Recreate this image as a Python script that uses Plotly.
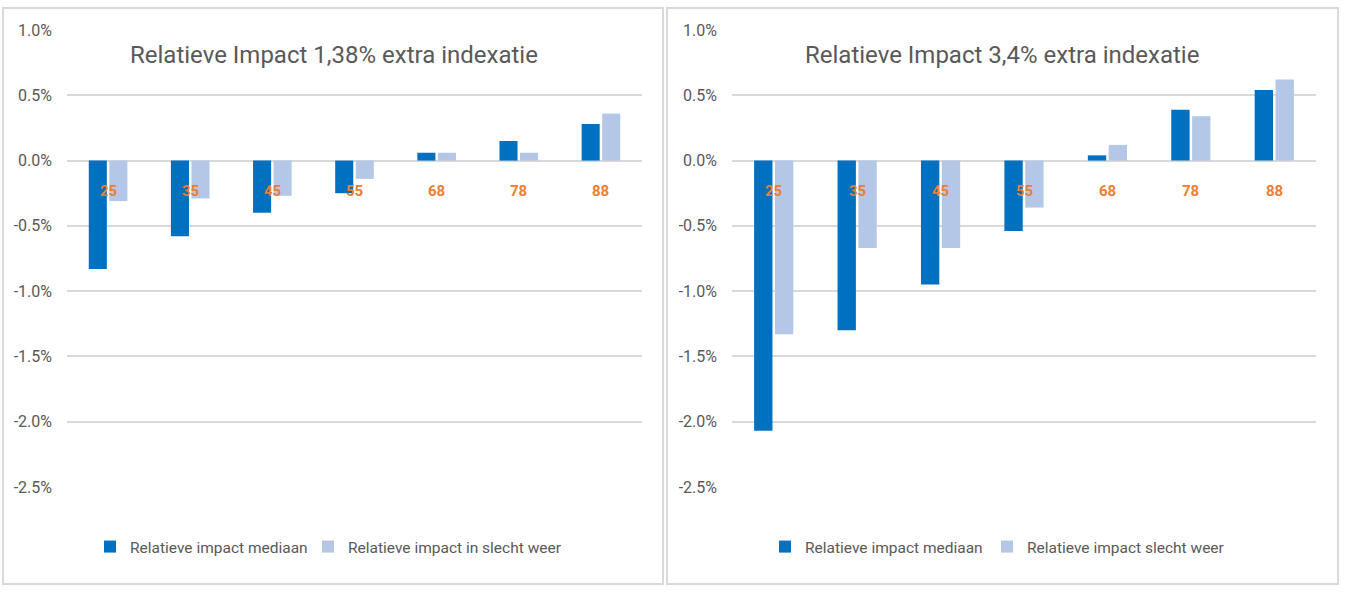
import plotly.graph_objects as go

categories = ["25", "35", "45", "55", "68", "78", "88"]
left_mediaan = [-0.83, -0.58, -0.40, -0.25, 0.06, 0.15, 0.28]
left_slecht = [-0.31, -0.29, -0.27, -0.14, 0.06, 0.06, 0.36]
right_mediaan = [-2.07, -1.30, -0.95, -0.54, 0.04, 0.39, 0.54]
right_slecht = [-1.33, -0.67, -0.67, -0.36, 0.12, 0.34, 0.62]
tick_vals = [1.0, 0.5, 0.0, -0.5, -1.0, -1.5, -2.0, -2.5]
tick_labels = ["1.0%", "0.5%", "0.0%", "-0.5%", "-1.0%", "-1.5%", "-2.0%", "-2.5%"]
left_title = "Relatieve Impact 1,38% extra indexatie"
right_title = "Relatieve Impact 3,4% extra indexatie"
left_names = ["Relatieve impact mediaan", "Relatieve impact in slecht weer"]
right_names = ["Relatieve impact mediaan", "Relatieve impact slecht weer"]

W, H = 1349, 596
DARK = "#0070C0"
LIGHT = "#B4C7E7"
GRID = "#D9D9D9"
TXT = "#595959"
ORANGE = "#ED7D31"
FONT = "Roboto, sans-serif"

def px(x):
    return x / W

def py(y):
    return 1 - y / H

fig = go.Figure()
fig.add_trace(go.Bar(x=categories, y=left_mediaan, name=left_names[0], marker_color=DARK,
                     xaxis="x", yaxis="y", legend="legend"))
fig.add_trace(go.Bar(x=categories, y=left_slecht, name=left_names[1], marker_color=LIGHT,
                     xaxis="x", yaxis="y", legend="legend2"))
fig.add_trace(go.Bar(x=categories, y=right_mediaan, name=right_names[0], marker_color=DARK,
                     xaxis="x2", yaxis="y2", legend="legend3"))
fig.add_trace(go.Bar(x=categories, y=right_slecht, name=right_names[1], marker_color=LIGHT,
                     xaxis="x2", yaxis="y2", legend="legend4"))
fig.update_traces(marker_line_width=0)

ydom = [py(487), py(30)]
yax = dict(range=[-2.5, 1.0], tickvals=tick_vals, ticktext=tick_labels, showgrid=True,
           gridcolor=GRID, gridwidth=2, zeroline=True, zerolinecolor=GRID, zerolinewidth=2,
           showline=False, ticks="", ticklabelstandoff=14, automargin=False,
           tickfont=dict(family=FONT, size=16, color=TXT), domain=ydom, fixedrange=True)
xax = dict(showticklabels=False, showgrid=False, zeroline=False, showline=False, ticks="",
           type="category", range=[-0.5, len(categories) - 0.5], automargin=False,
           fixedrange=True)

legfont = dict(family=FONT, size=15.5, color=TXT)
def leg(x):
    return dict(x=px(x), y=py(547), xanchor="left", yanchor="middle", orientation="h",
                font=legfont, bgcolor="rgba(0,0,0,0)", itemwidth=30)

fig.update_layout(
    template="none",
    width=W, height=H, margin=dict(l=0, r=0, t=0, b=0, autoexpand=False),
    paper_bgcolor="white", plot_bgcolor="white",
    barmode="group", bargap=0.5, bargroupgap=0.12,
    xaxis=dict(domain=[px(67), px(642)], anchor="y", **xax),
    yaxis=dict(anchor="x", **yax),
    xaxis2=dict(domain=[px(732), px(1316)], anchor="y2", **xax),
    yaxis2=dict(anchor="x2", **yax),
    legend=leg(90), legend2=leg(308), legend3=leg(765), legend4=leg(987),
    showlegend=True,
)

# panel borders
for x0, x1 in [(3, 663), (667, 1338)]:
    fig.add_shape(type="rect", xref="paper", yref="paper", x0=px(x0), x1=px(x1),
                  y0=py(584), y1=py(8), line=dict(color=GRID, width=2), layer="below")

# titles
fig.add_annotation(text=left_title, xref="paper", yref="paper", x=px(334), y=py(55),
                   xanchor="center", yanchor="middle",
                   showarrow=False, font=dict(family=FONT, size=24, color=TXT))
fig.add_annotation(text=right_title, xref="paper", yref="paper", x=px(1002), y=py(55),
                   xanchor="center", yanchor="middle",
                   showarrow=False, font=dict(family=FONT, size=24, color=TXT))

# category labels
for xr in ["x", "x2"]:
    for i, c in enumerate(categories):
        fig.add_annotation(text="<b>" + c + "</b>", xref=xr, yref="paper", x=i, y=py(191),
                           xanchor="center", yanchor="middle",
                           showarrow=False, font=dict(family=FONT, size=15, color=ORANGE))

fig.write_html("out.html", config={"displayModeBar": False},
               post_script="document.body.style.margin='0';")
